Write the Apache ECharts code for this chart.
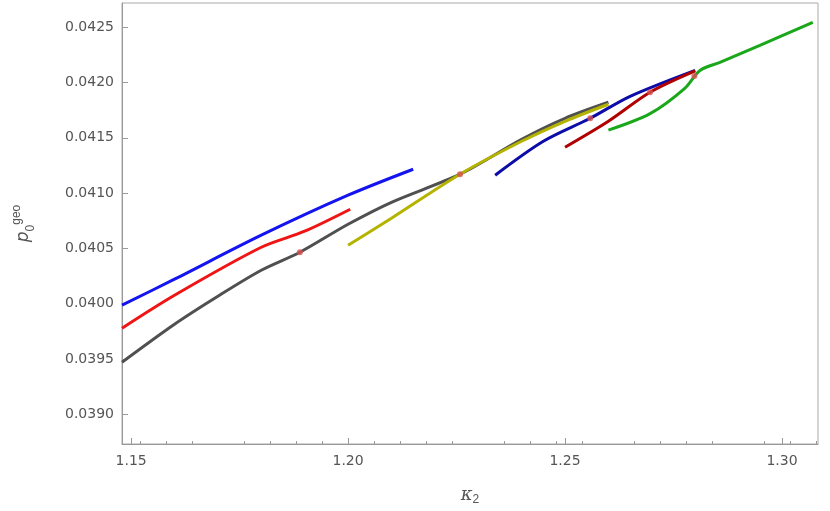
<!DOCTYPE html><html><head><meta charset="utf-8"><script src="https://cdn.jsdelivr.net/npm/echarts@6/dist/echarts.min.js"></script>
<style>html,body{margin:0;padding:0;background:#fff}#c{width:830px;height:511px}</style></head><body><div id="c"></div><script>
const xTicks=[1.15,1.20,1.25,1.30];
const yTicks=[0.0390,0.0395,0.0400,0.0405,0.0410,0.0415,0.0420,0.0425];
const blue=[[1.1479,0.039986],[1.16,0.040221],[1.18,0.040619],[1.20,0.040981],[1.215,0.041216]];
const red=[[1.1479,0.039778],[1.16,0.040076],[1.18,0.040510],[1.19,0.040655],[1.2005,0.040854]];
const gray=[[1.1479,0.03947],[1.16,0.039814],[1.17,0.040067],[1.18,0.040302],[1.1889,0.040465],[1.20,0.040718],[1.21,0.040917],[1.2258,0.041171],[1.24,0.041487],[1.25,0.041677],[1.26,0.041822]];
const yellow=[[1.20,0.040528],[1.21,0.040773],[1.2258,0.041171],[1.24,0.041469],[1.25,0.041650],[1.2600,0.041804]];
const navy=[[1.2339,0.041162],[1.245,0.041469],[1.2558,0.041677],[1.265,0.041876],[1.2800,0.042111]];
const darkred=[[1.2500,0.041415],[1.26,0.04165],[1.2696,0.041912],[1.2800,0.042105]];
const green=[[1.2600,0.041570],[1.2696,0.041719],[1.2776,0.041948],[1.2811,0.04211],[1.2857,0.042183],[1.2949,0.042337],[1.3071,0.042545]];
const dots=[[1.1889,0.040465],[1.2258,0.041171],[1.2558,0.041677],[1.2696,0.041912],[1.2798,0.04206]];
const ch=echarts.init(document.getElementById('c'));
const ax={lineStyle:{color:'#999'}};
function s(d,c){return{type:'line',data:d,smooth:0.3,showSymbol:false,lineStyle:{color:c,width:3},z:2};}
ch.setOption({animation:false,
grid:{left:122,right:12,top:3,bottom:67,show:true,borderColor:'#aaa',borderWidth:1},
xAxis:{type:'value',min:1.1479,max:1.3083,name:'{k|κ}{s|2}',nameLocation:'middle',nameGap:40,
 nameTextStyle:{rich:{k:{fontSize:18,color:'#555',fontStyle:'italic',fontFamily:'DejaVu Serif'},s:{fontSize:12,color:'#555',padding:[10,0,0,0]}}},
 axisLine:ax,splitLine:{show:false},axisTick:{inside:true,customValues:xTicks,length:6,lineStyle:{color:'#999'}},minorTick:{show:true,splitNumber:5,length:3},
 axisLabel:{customValues:xTicks,formatter:v=>v.toFixed(2),color:'#555',fontSize:14,fontFamily:'DejaVu Sans',margin:10}},
yAxis:{type:'value',min:0.03873,max:0.04272,name:'{p|p}{s|0}{g|geo}',nameLocation:'middle',nameGap:85,nameRotate:90,
 nameTextStyle:{rich:{p:{fontSize:17,color:'#555',fontStyle:'italic',fontFamily:'DejaVu Sans'},s:{fontSize:12,color:'#555',verticalAlign:'bottom',padding:[8,0,0,0]},g:{fontSize:12,color:'#555',padding:[0,0,14,0]}}},
 axisLine:{show:true,lineStyle:{color:'#999'}},splitLine:{show:false},axisTick:{inside:true,customValues:yTicks,length:6,lineStyle:{color:'#999'}},
 axisLabel:{customValues:yTicks,formatter:v=>v.toFixed(4),color:'#555',fontSize:14,fontFamily:'DejaVu Sans'}},
series:[s(gray,'#505050'),s(blue,'#1414f0'),s(red,'#f01414'),s(yellow,'#b4b400'),s(green,'#1aa81a'),s(navy,'#0c0ca8'),s(darkred,'#b00000'),
{type:'scatter',data:dots,symbolSize:6,itemStyle:{color:'#d85050',opacity:0.8},z:5}]});
</script></body></html>
